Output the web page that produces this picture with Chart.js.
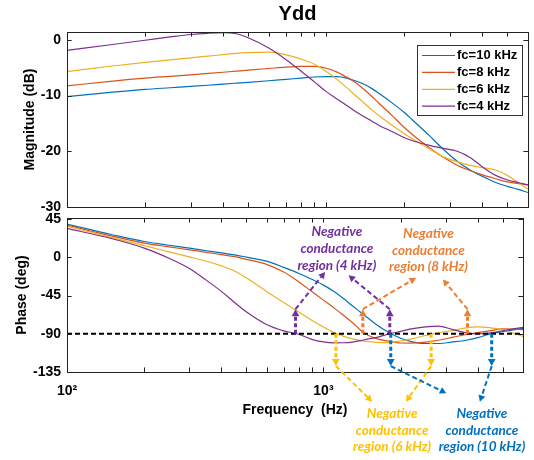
<!DOCTYPE html>
<html>
<head>
<meta charset="utf-8">
<script src="https://cdn.jsdelivr.net/npm/chart.js@4.4.1/dist/chart.umd.min.js"></script>
<style>
  html, body { margin: 0; padding: 0; background: #fff; }
  #wrap { position: relative; width: 534px; height: 460px; }
  #wrap canvas { position: absolute; left: 0; top: 0; }
</style>
</head>
<body>
<div id="wrap">
  <canvas id="graficoMag" width="534" height="460"></canvas>
  <canvas id="graficoFase" width="534" height="460"></canvas>
</div>
<script>
const freqs = [100, 150, 200, 250, 300, 350, 400, 450, 500, 600, 700, 800, 900, 1000, 1100, 1200,
  1300, 1400, 1500, 1600, 1800, 2000, 2200, 2500, 2800, 3200, 3600, 4000, 4500, 5000, 5500, 6000];

const seriesLabels = ['fc=10 kHz', 'fc=8 kHz', 'fc=6 kHz', 'fc=4 kHz'];

const mag10 = [-10.2, -9.4, -8.9, -8.6, -8.36, -8.15, -7.95, -7.78, -7.63, -7.35, -7.09, -6.87, -6.67, -6.6, -6.6, -6.87,
  -7.4, -7.98, -8.76, -9.64, -11.36, -13.05, -14.8, -17.2, -19.45, -21.8, -23.4, -24.5, -25.6, -26.3, -26.85, -27.4];
const mag8 = [-8.25, -7.42, -6.88, -6.55, -6.28, -6.04, -5.82, -5.62, -5.45, -5.15, -4.89, -4.76, -4.75, -5.1, -5.8, -6.72,
  -7.7, -8.93, -10.18, -11.43, -13.64, -15.74, -17.4, -19.35, -20.94, -22.5, -23.5, -24.24, -24.93, -25.5, -25.8, -26.05];
const mag6 = [-5.7, -4.7, -4.04, -3.6, -3.23, -2.93, -2.66, -2.42, -2.3, -2.2, -2.69, -3.46, -4.39, -5.7, -7.1, -8.58,
  -10.04, -11.33, -12.58, -13.64, -15.37, -16.84, -18.06, -19.57, -20.92, -21.9, -22.54, -22.95, -23.36, -24.34, -25.6, -26.8];
const mag4 = [-1.9, -0.84, -0.08, 0.51, 0.95, 1.17, 1.27, 1.08, 0.38, -1.48, -3.56, -5.63, -7.55, -9.3, -10.6, -11.8,
  -12.9, -13.8, -14.6, -15.36, -16.5, -17.57, -18.25, -18.94, -19.45, -20.0, -21.16, -22.8, -24.33, -25.15, -25.6, -26.05];

const phase10 = [39.3, 26.8, 18.8, 14.4, 10.9, 7.9, 5.3, 3.0, 0.35, -4.4, -11.7, -18.6, -25.7, -32.6, -40.2, -48.7,
  -57.3, -64.8, -72.0, -78.6, -88.4, -95.3, -99.1, -101.4, -101.4, -99.6, -97.6, -94.5, -89.8, -87.3, -85.3, -83.5];
const phase8 = [38.1, 25.1, 16.9, 12.5, 9.0, 6.0, 3.3, 1.0, -2.2, -8.1, -17.2, -28.5, -40.0, -50.3, -59.4, -68.4,
  -76.9, -86.1, -91.9, -95.3, -98.8, -100.8, -100.9, -99.8, -97.6, -94.0, -90.8, -88.6, -86.3, -84.1, -84.3, -85.0];
const phase6 = [36.9, 23.4, 13.85, 6.6, 0.7, -4.5, -10, -16, -24, -40, -53, -64, -74, -82, -88.5, -93,
  -96, -98, -99.3, -100, -100.3, -98.5, -96, -92, -88.7, -86.0, -82.9, -81.7, -83.0, -85.1, -89.2, -93.0];
const phase4 = [34.2, 22, 11, -1, -13, -27, -40, -53, -64, -79, -86.5, -90.5, -96.5, -99.5, -100.6, -100.5,
  -99.7, -98, -96, -94.5, -90.2, -87.2, -84.2, -81.9, -81.0, -85, -88.9, -89.9, -88.9, -86.4, -84.2, -82.3];

const freqTicks = [100, 200, 300, 400, 500, 600, 700, 800, 900, 1000, 2000, 3000, 4000, 5000, 6000];
const magTicks = [-30, -20, -10, 0];
const phaseTicks = [-135, -90, -45, 0, 45];
const phaseRef = -90;

// Anotaciones: regiones de conductancia negativa
const regionNames = ['4 kHz', '8 kHz', '6 kHz', '10 kHz'];
const regionCrossings = [[778, 1814], [1424, 3645], [1118, 2630], [1830, 4530]];
const regionArrowTips = [-61, -61, -128, -128];
const regionPointers = [[[1015, -17], [1253, -21]], [[2296, -24], [2924, -26]],
  [[1549, -170], [2097, -170]], [[3013, -160], [4073, -170]]];
const regionTextAt = [[1128, 30], [2567, 28], [1852, -184], [4150, -184]];

const seriesColors = ['#0072BD', '#D95319', '#EDB120', '#7E2F8E'];
const regionColors = ['#7030A0', '#ED7D31', '#FFC000', '#0070C0'];

Chart.defaults.font.family = 'Arial, "Liberation Sans", sans-serif';
Chart.defaults.font.size = 14;
Chart.defaults.font.weight = 'bold';
Chart.defaults.color = '#000';

function arrow(ctx, x1, y1, x2, y2, color, w, dash, head) {
  const ang = Math.atan2(y2 - y1, x2 - x1);
  const bx = x2 - head * Math.cos(ang), by = y2 - head * Math.sin(ang);
  ctx.save();
  ctx.strokeStyle = color;
  ctx.fillStyle = color;
  ctx.lineWidth = w;
  ctx.setLineDash(dash);
  ctx.beginPath();
  ctx.moveTo(x1, y1);
  ctx.lineTo(bx, by);
  ctx.stroke();
  ctx.setLineDash([]);
  ctx.beginPath();
  ctx.moveTo(x2, y2);
  ctx.lineTo(bx + head * 0.55 * Math.sin(ang), by - head * 0.55 * Math.cos(ang));
  ctx.lineTo(bx - head * 0.55 * Math.sin(ang), by + head * 0.55 * Math.cos(ang));
  ctx.closePath();
  ctx.fill();
  ctx.restore();
}

// caja y marcas hacia dentro, estilo MATLAB
const marcoMatlab = {
  id: 'marcoMatlab',
  afterDatasetsDraw(chart) {
    const { ctx, chartArea: a, scales } = chart;
    const L = 4.6;
    ctx.save();
    ctx.strokeStyle = '#222';
    ctx.lineWidth = 1;
    ctx.beginPath();
    freqTicks.forEach(v => {
      const x = Math.round(scales.x.getPixelForValue(v)) + 0.5;
      ctx.moveTo(x, a.bottom); ctx.lineTo(x, a.bottom - L);
      ctx.moveTo(x, a.top); ctx.lineTo(x, a.top + L);
    });
    scales.y.ticks.forEach(t => {
      const y = Math.round(scales.y.getPixelForValue(t.value)) + 0.5;
      ctx.moveTo(a.left, y); ctx.lineTo(a.left + L, y);
      ctx.moveTo(a.right, y); ctx.lineTo(a.right - L, y);
    });
    ctx.stroke();
    ctx.strokeRect(Math.round(a.left) + 0.5, Math.round(a.top) + 0.5,
      Math.round(a.right - a.left), Math.round(a.bottom - a.top));
    ctx.restore();
  }
};

const leyenda = {
  id: 'leyenda',
  afterDraw(chart) {
    const { ctx, chartArea: a } = chart;
    const w = 105, h = 70;
    const left = a.right - 6 - w, top = a.top + 13;
    ctx.save();
    ctx.fillStyle = '#fff';
    ctx.fillRect(left, top, w, h);
    ctx.strokeStyle = '#333';
    ctx.lineWidth = 1;
    ctx.strokeRect(Math.round(left) + 0.5, Math.round(top) + 0.5, w, h);
    ctx.font = 'bold 13px Arial, "Liberation Sans", sans-serif';
    ctx.textBaseline = 'middle';
    ctx.fillStyle = '#000';
    chart.data.datasets.forEach((ds, i) => {
      const y = top + 10.5 + i * 16.9;
      ctx.strokeStyle = ds.borderColor;
      ctx.lineWidth = 1.2;
      ctx.beginPath();
      ctx.moveTo(left + 5, y);
      ctx.lineTo(left + 38, y);
      ctx.stroke();
      ctx.fillText(ds.label, left + 40, y);
    });
    ctx.restore();
  }
};

const regiones = {
  id: 'regiones',
  afterDatasetsDraw(chart) {
    const { ctx } = chart;
    const sx = chart.scales.x, sy = chart.scales.y;
    regionNames.forEach((name, i) => {
      const col = regionColors[i];
      const y0 = sy.getPixelForValue(phaseRef);
      const y1 = sy.getPixelForValue(regionArrowTips[i]);
      regionCrossings[i].forEach((f, j) => {
        const px = sx.getPixelForValue(f);
        arrow(ctx, px, y0, px, y1, col, 3, [4, 2.5], 7);
        const [pf, pd] = regionPointers[i][j];
        arrow(ctx, px, y1, sx.getPixelForValue(pf), sy.getPixelForValue(pd), col, 2, [5, 3], 6.5);
      });
      const [tf, td] = regionTextAt[i];
      const tx = sx.getPixelForValue(tf), ty = sy.getPixelForValue(td);
      ctx.save();
      ctx.fillStyle = col;
      ctx.font = 'italic bold 13.5px Lato, "Open Sans", sans-serif';
      ctx.textAlign = 'center';
      ctx.textBaseline = 'middle';
      ['Negative', 'conductance', 'region (' + name + ')'].forEach((line, k) => {
        ctx.fillText(line, tx, ty + k * 16.7);
      });
      ctx.restore();
    });
  }
};

function buildSeries(values) {
  return seriesLabels.map((label, i) => ({
    label,
    data: freqs.map((f, k) => ({ x: f, y: values[i][k] })),
    borderColor: seriesColors[i],
    borderWidth: 1.2,
    pointRadius: 0,
    cubicInterpolationMode: 'monotone',
    order: 3 - i
  }));
}

// Magnitud
new Chart(document.getElementById('graficoMag'), {
  type: 'line',
  data: { datasets: buildSeries([mag10, mag8, mag6, mag4]) },
  options: {
    responsive: false,
    animation: false,
    devicePixelRatio: 1,
    layout: { padding: { left: 0, top: 0, right: 6, bottom: 0 } },
    plugins: {
      legend: { display: false },
      tooltip: { enabled: false },
      title: {
        display: true,
        text: 'Ydd',
        fullSize: false,
        font: { size: 20, weight: 'bold' },
        padding: { top: 2, bottom: 6 }
      }
    },
    scales: {
      x: {
        type: 'logarithmic',
        min: 100,
        max: 6000,
        afterBuildTicks: s => { s.ticks = freqTicks.map(v => ({ value: v })); },
        afterFit: s => { s.height = 253; },
        grid: { display: false, drawTicks: false },
        border: { display: false },
        ticks: { display: false }
      },
      y: {
        min: -30,
        max: 1.4,
        afterBuildTicks: s => { s.ticks = magTicks.map(v => ({ value: v })); },
        afterFit: s => { s.width = 67; },
        grid: { display: false, drawTicks: false },
        border: { display: false },
        ticks: { padding: 6, callback: v => String(v) },
        title: { display: true, text: 'Magnitude (dB)', font: { size: 14, weight: 'bold' }, padding: { top: 21.6 } }
      }
    }
  },
  plugins: [marcoMatlab, leyenda]
});

// Fase
const faseSets = buildSeries([phase10, phase8, phase6, phase4]);
faseSets.push({
  label: '',
  data: [{ x: 100, y: phaseRef }, { x: 6000, y: phaseRef }],
  borderColor: '#000',
  borderWidth: 2,
  borderDash: [5, 3],
  pointRadius: 0,
  order: -1
});

new Chart(document.getElementById('graficoFase'), {
  type: 'line',
  data: { datasets: faseSets },
  options: {
    responsive: false,
    animation: false,
    devicePixelRatio: 1,
    layout: { padding: { left: 0, top: 218, right: 6, bottom: 0 } },
    plugins: { legend: { display: false }, tooltip: { enabled: false } },
    scales: {
      x: {
        type: 'logarithmic',
        min: 100,
        max: 6000,
        afterBuildTicks: s => { s.ticks = freqTicks.map(v => ({ value: v })); },
        afterFit: s => { s.height = 88; },
        grid: { display: false, drawTicks: false },
        border: { display: false },
        ticks: {
          autoSkip: false,
          maxRotation: 0,
          padding: 11,
          callback: v => (v === 100 ? '10\u00B2' : v === 1000 ? '10\u00B3' : '')
        },
        title: { display: true, text: 'Frequency  (Hz)', font: { size: 14, weight: 'bold' }, padding: { bottom: 41.6 } }
      },
      y: {
        min: -135,
        max: 46.5,
        afterBuildTicks: s => { s.ticks = phaseTicks.map(v => ({ value: v })); },
        afterFit: s => { s.width = 67; },
        grid: { display: false, drawTicks: false },
        border: { display: false },
        ticks: { padding: 6, callback: v => String(v) },
        title: { display: true, text: 'Phase (deg)', font: { size: 14, weight: 'bold' }, padding: { top: 13.3 } }
      }
    }
  },
  plugins: [marcoMatlab, regiones]
});
</script>
</body>
</html>
